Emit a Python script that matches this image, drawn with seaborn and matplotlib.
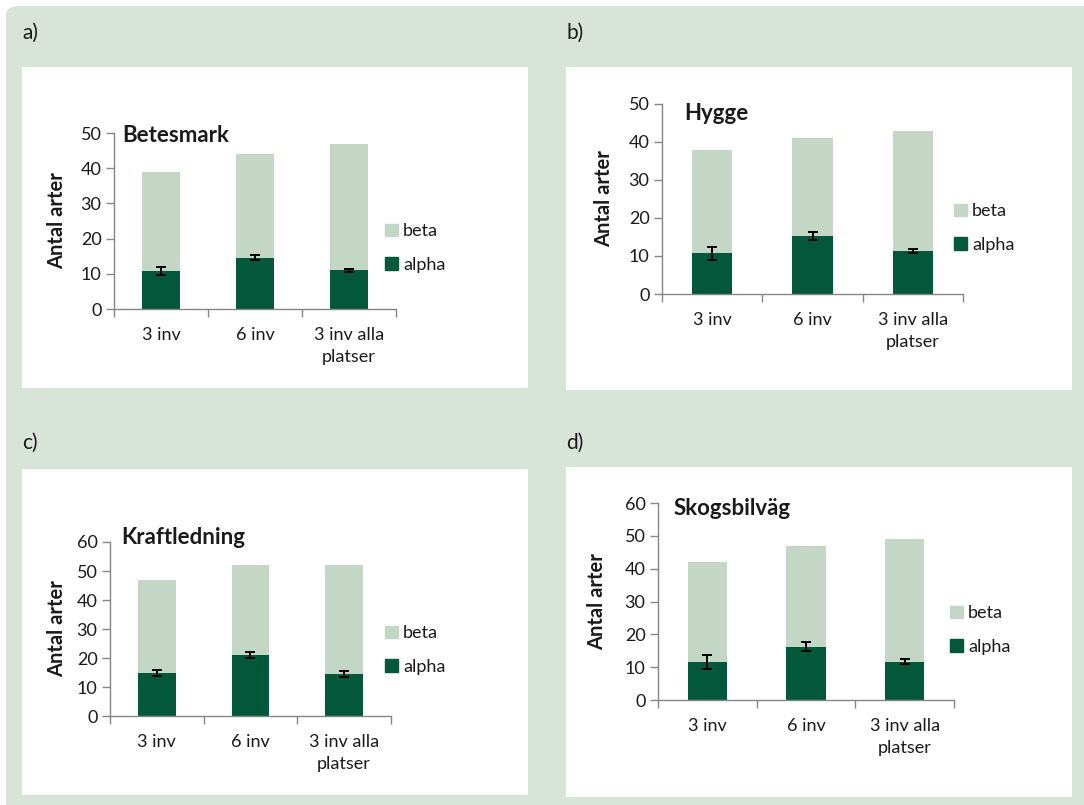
"""Recreate the four-panel alpha/beta species richness figure."""

import matplotlib

matplotlib.use("Agg")

import matplotlib.patches as mpatches
import matplotlib.pyplot as plt
import pandas as pd
import seaborn as sns

# ---------------------------------------------------------------------------
# Data
# ---------------------------------------------------------------------------
categories = ["3 inv", "6 inv", "3 inv alla\nplatser"]

titles = ["Betesmark", "Hygge", "Kraftledning", "Skogsbilväg"]
panel_tags = ["a)", "b)", "c)", "d)"]

# total height of the stacked bar (alpha + beta)
betesmark_total = [39, 44, 47]
hygge_total = [38, 41, 43]
kraftledning_total = [47, 52, 52]
skogsbilvag_total = [42, 47, 49]

betesmark_alpha = [10.9, 14.6, 10.95]
hygge_alpha = [10.7, 15.2, 11.3]
kraftledning_alpha = [14.7, 21.15, 14.5]
skogsbilvag_alpha = [11.5, 16.2, 11.7]

betesmark_err = [1.1, 0.7, 0.55]
hygge_err = [1.65, 1.0, 0.55]
kraftledning_err = [1.0, 1.0, 1.0]
skogsbilvag_err = [2.2, 1.35, 0.7]

y_max = [50, 50, 60, 60]

totals = [betesmark_total, hygge_total, kraftledning_total, skogsbilvag_total]
alphas = [betesmark_alpha, hygge_alpha, kraftledning_alpha, skogsbilvag_alpha]
errs = [betesmark_err, hygge_err, kraftledning_err, skogsbilvag_err]

# ---------------------------------------------------------------------------
# Styling
# ---------------------------------------------------------------------------
DARK = "#03573a"
LIGHT = "#c4d7c6"
BG = "#d9e4d9"
AXIS = "#868686"
TEXT = "#1a1a1a"

W, H = 1084, 805

sns.set_style("white")
plt.rcParams["font.family"] = ["Lato", "DejaVu Sans"]


def px(x, y):
    """Pixel (top-left origin) to figure fraction."""
    return x / W, 1 - y / H


# panel layout in pixels: white box, axes box, title anchor, legend anchor,
# y-label x position
panels = [
    dict(box=(22, 67, 528, 388), ax=(114, 133, 396, 309), title=(122, 135),
         leg=(385, 248), ylab=57, tag=(22, 33)),
    dict(box=(566, 67, 1072, 390), ax=(662, 104, 963, 294), title=(684, 113),
         leg=(954, 228), ylab=604, tag=(566, 33)),
    dict(box=(22, 469, 528, 795), ax=(110, 542, 391, 716), title=(121, 538),
         leg=(385, 650), ylab=57, tag=(22, 443)),
    dict(box=(566, 467, 1072, 797), ax=(658, 503, 954, 700), title=(674, 508),
         leg=(950, 630), ylab=597, tag=(566, 443)),
]

fig = plt.figure(figsize=(W / 100, H / 100), dpi=100)
fig.patch.set_facecolor("white")

# rounded green background
x0, y0 = px(6, H + 20)
x1, y1 = px(W + 20, 6)
fig.patches.append(
    mpatches.FancyBboxPatch(
        (x0, y0), x1 - x0, y1 - y0,
        boxstyle="round,pad=0,rounding_size=0.012",
        transform=fig.transFigure, facecolor=BG, edgecolor="none", zorder=0,
    )
)

for i, p in enumerate(panels):
    bx0, by0, bx1, by1 = p["box"]
    fx0, fy0 = px(bx0, by1)
    fx1, fy1 = px(bx1, by0)
    fig.patches.append(
        mpatches.Rectangle((fx0, fy0), fx1 - fx0, fy1 - fy0,
                           transform=fig.transFigure, facecolor="white",
                           edgecolor="none", zorder=1)
    )
    tx, ty = px(*p["tag"])
    fig.text(tx, ty, panel_tags[i], fontsize=15, color=TEXT, va="center", ha="left")

    ax0, ay0, ax1, ay1 = p["ax"]
    l, b = px(ax0, ay1)
    r, t = px(ax1, ay0)
    ax = fig.add_axes([l, b, r - l, t - b])
    ax.set_zorder(2)
    ax.patch.set_alpha(0)

    df = pd.DataFrame({"kat": categories, "total": totals[i], "alpha": alphas[i]})
    sns.barplot(data=df, x="kat", y="total", color=LIGHT, saturation=1,
                width=0.4, linewidth=0, ax=ax)
    sns.barplot(data=df, x="kat", y="alpha", color=DARK, saturation=1,
                width=0.4, linewidth=0, ax=ax)
    ax.errorbar(range(len(categories)), alphas[i], yerr=errs[i], fmt="none",
                ecolor="black", elinewidth=1.4, capsize=3.5, capthick=1.4,
                zorder=5)

    ax.set_xlim(-0.5, len(categories) - 0.5)
    ax.set_ylim(0, y_max[i])
    ax.set_yticks(range(0, y_max[i] + 1, 10))
    ax.set_xticks(range(len(categories)))
    ax.set_xticklabels(categories, fontsize=13, color=TEXT, linespacing=1.45)
    ax.set_xticks([k - 0.5 for k in range(len(categories) + 1)], minor=True)
    ax.tick_params(axis="x", which="major", length=0, pad=13)
    ax.tick_params(axis="x", which="minor", length=6, width=1, color=AXIS,
                   direction="out", bottom=True)
    ax.tick_params(axis="y", length=6, width=1, color=AXIS, direction="out",
                   labelsize=13, labelcolor=TEXT, pad=3, left=True)

    sns.despine(ax=ax)
    for side in ("left", "bottom"):
        ax.spines[side].set_color(AXIS)
        ax.spines[side].set_linewidth(1)

    ax.set_xlabel("")
    ax.set_ylabel("Antal arter", fontsize=14.5, fontweight="bold", color=TEXT,
                  va="center")
    ax.yaxis.set_label_coords((p["ylab"] - ax0) / (ax1 - ax0), 0.5)

    ttx, tty = px(*p["title"])
    fig.text(ttx, tty, titles[i], fontsize=16, fontweight="bold", color=TEXT,
             va="center", ha="left", zorder=3)

    handles = [mpatches.Patch(color=LIGHT, label="beta"),
               mpatches.Patch(color=DARK, label="alpha")]
    lx, ly = px(*p["leg"])
    ax.legend(handles=handles, loc="center left", bbox_to_anchor=(lx, ly),
              bbox_transform=fig.transFigure, frameon=False, fontsize=13,
              handlelength=0.7, handleheight=0.7, handletextpad=0.3,
              labelspacing=0.95, borderpad=0, borderaxespad=0,
              labelcolor=TEXT)

fig.savefig("out.png", dpi=100)
